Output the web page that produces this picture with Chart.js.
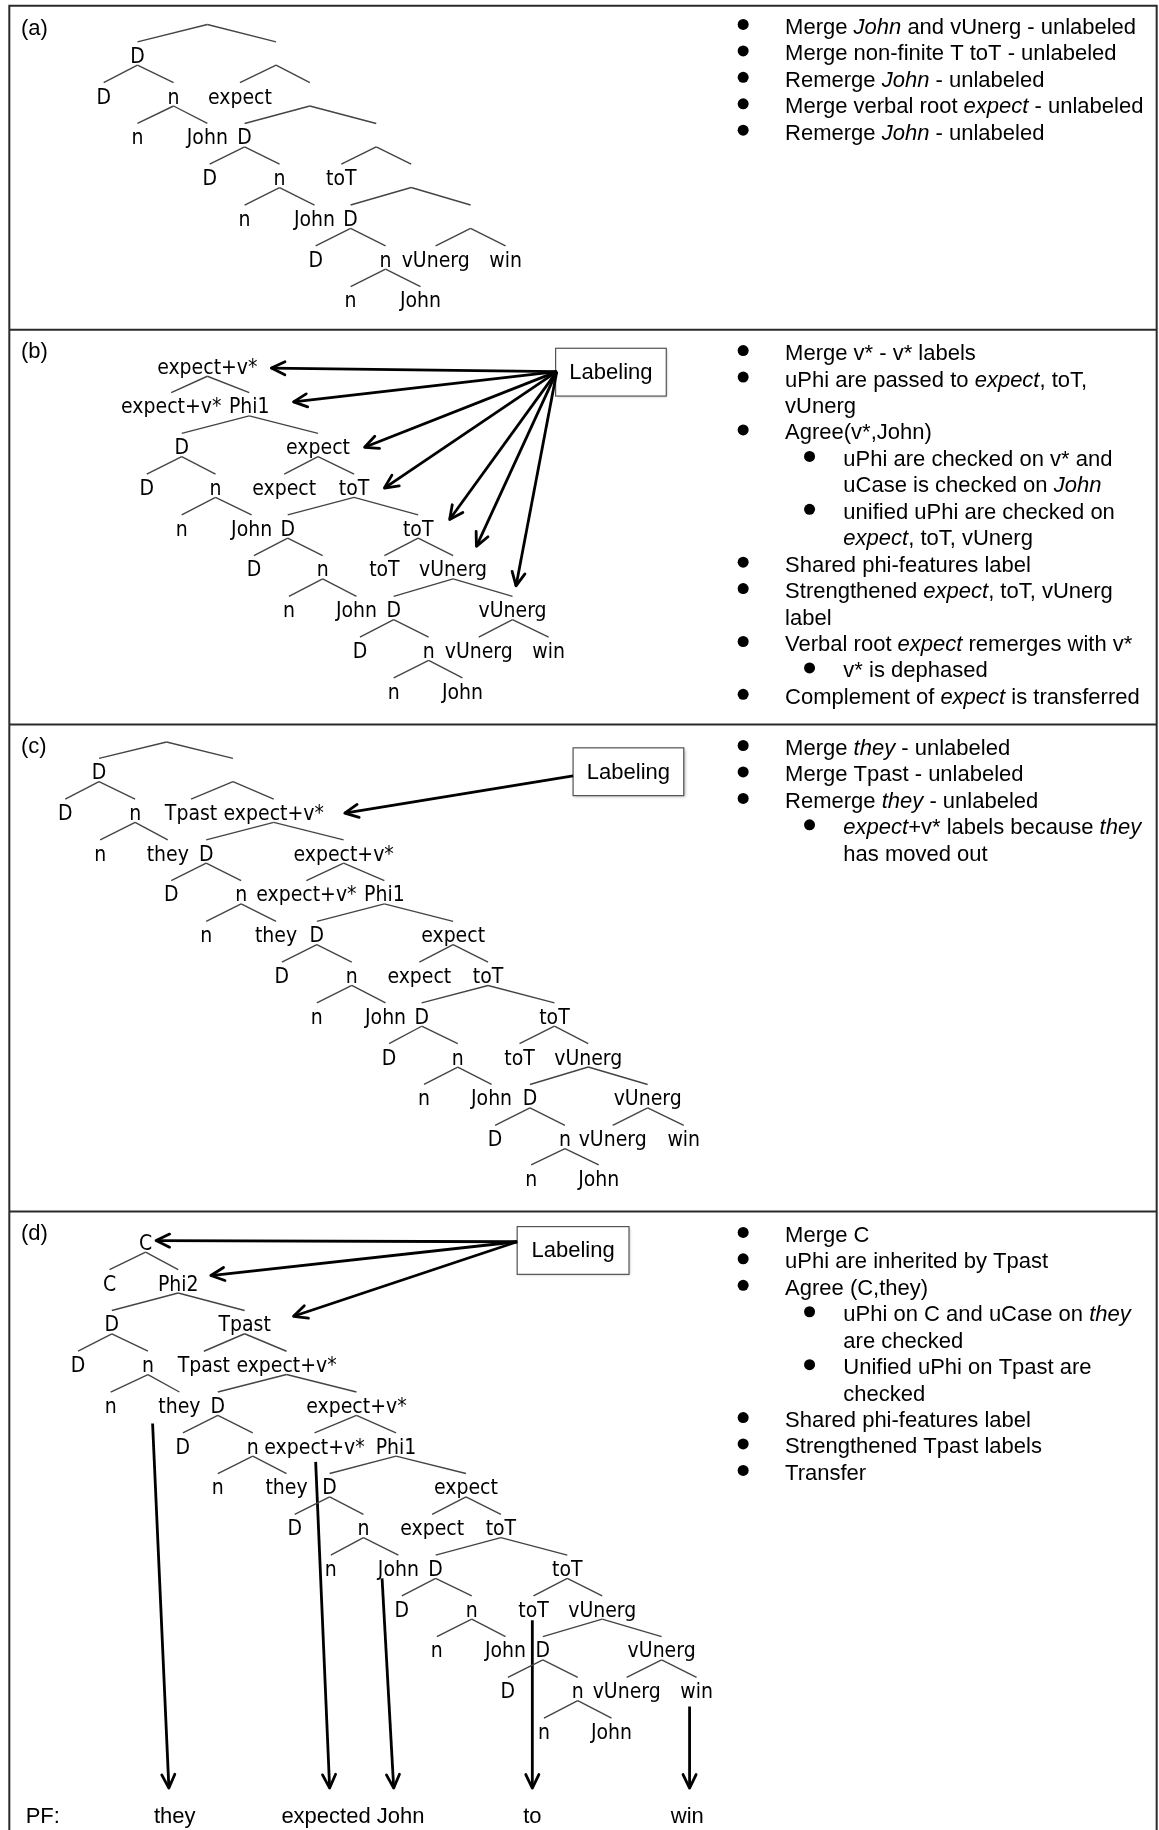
<!DOCTYPE html>
<html>
<head>
<meta charset="utf-8">
<script src="https://cdn.jsdelivr.net/npm/chart.js@4.4.1/dist/chart.umd.min.js"></script>
<style>
    html, body { margin: 0; padding: 0; background: #fff; }
</style>
</head>
<body>
<canvas id="figure" width="1159" height="1830"></canvas>
<script>
// chart units follow the reference sheet (995 x 1571), the scales stretch them onto the canvas
const X_MAX = 995;
const Y_MAX = 1571;

// trees: [label, x, y, parent]
const treeA = [
    ['', 178, 12, -1],
    ['D', 118, 47, 0],
    ['D', 89, 82, 1],
    ['n', 149, 82, 1],
    ['n', 118, 117, 3],
    ['John', 178, 117, 3],
    ['', 237, 47, 0],
    ['expect', 206, 82, 6],
    ['', 266, 82, 6],
    ['D', 210, 117, 8],
    ['D', 180, 152, 9],
    ['n', 240, 152, 9],
    ['n', 210, 187, 11],
    ['John', 270, 187, 11],
    ['', 323, 117, 8],
    ['toT', 293, 152, 14],
    ['', 353, 152, 14],
    ['D', 301, 187, 16],
    ['D', 271, 222, 17],
    ['n', 331, 222, 17],
    ['n', 301, 257, 19],
    ['John', 361, 257, 19],
    ['', 404, 187, 16],
    ['vUnerg', 374, 222, 22],
    ['win', 434, 222, 22]
];

const treeB = [
    ['expect+v*', 178, 314, -1],
    ['expect+v*', 147, 348, 0],
    ['Phi1', 214, 348, 0],
    ['D', 156, 383, 2],
    ['D', 126, 418, 3],
    ['n', 185, 418, 3],
    ['n', 156, 453, 5],
    ['John', 216, 453, 5],
    ['expect', 273, 383, 2],
    ['expect', 244, 418, 8],
    ['toT', 304, 418, 8],
    ['D', 247, 453, 10],
    ['D', 218, 488, 11],
    ['n', 277, 488, 11],
    ['n', 248, 523, 13],
    ['John', 306, 523, 13],
    ['toT', 359, 453, 10],
    ['toT', 330, 488, 16],
    ['vUnerg', 389, 488, 16],
    ['D', 338, 523, 18],
    ['D', 309, 558, 19],
    ['n', 368, 558, 19],
    ['n', 338, 593, 21],
    ['John', 397, 593, 21],
    ['vUnerg', 440, 523, 18],
    ['vUnerg', 411, 558, 24],
    ['win', 471, 558, 24]
];

const treeC = [
    ['', 143, 628, -1],
    ['D', 85, 662, 0],
    ['D', 56, 697, 1],
    ['n', 116, 697, 1],
    ['n', 86, 732, 3],
    ['they', 144, 732, 3],
    ['', 200, 662, 0],
    ['Tpast', 164, 697, 6],
    ['expect+v*', 235, 697, 6],
    ['D', 177, 732, 8],
    ['D', 147, 767, 9],
    ['n', 207, 767, 9],
    ['n', 177, 802, 11],
    ['they', 237, 802, 11],
    ['expect+v*', 295, 732, 8],
    ['expect+v*', 263, 767, 14],
    ['Phi1', 330, 767, 14],
    ['D', 272, 802, 16],
    ['D', 242, 837, 17],
    ['n', 302, 837, 17],
    ['n', 272, 872, 19],
    ['John', 331, 872, 19],
    ['expect', 389, 802, 16],
    ['expect', 360, 837, 22],
    ['toT', 419, 837, 22],
    ['D', 362, 872, 24],
    ['D', 334, 907, 25],
    ['n', 393, 907, 25],
    ['n', 364, 942, 27],
    ['John', 422, 942, 27],
    ['toT', 476, 872, 24],
    ['toT', 446, 907, 30],
    ['vUnerg', 505, 907, 30],
    ['D', 455, 942, 32],
    ['D', 425, 977, 33],
    ['n', 485, 977, 33],
    ['n', 456, 1011, 35],
    ['John', 514, 1011, 35],
    ['vUnerg', 556, 942, 32],
    ['vUnerg', 526, 977, 38],
    ['win', 587, 977, 38]
];

const treeD = [
    ['C', 125, 1066, -1],
    ['C', 94, 1101, 0],
    ['Phi2', 153, 1101, 0],
    ['D', 96, 1136, 2],
    ['D', 67, 1171, 3],
    ['n', 127, 1171, 3],
    ['n', 95, 1206, 5],
    ['they', 154, 1206, 5],
    ['Tpast', 210, 1136, 2],
    ['Tpast', 175, 1171, 8],
    ['expect+v*', 246, 1171, 8],
    ['D', 187, 1206, 10],
    ['D', 157, 1241, 11],
    ['n', 217, 1241, 11],
    ['n', 187, 1276, 13],
    ['they', 246, 1276, 13],
    ['expect+v*', 306, 1206, 10],
    ['expect+v*', 270, 1241, 16],
    ['Phi1', 340, 1241, 16],
    ['D', 283, 1276, 18],
    ['D', 253, 1311, 19],
    ['n', 312, 1311, 19],
    ['n', 284, 1346, 21],
    ['John', 342, 1346, 21],
    ['expect', 400, 1276, 18],
    ['expect', 371, 1311, 24],
    ['toT', 430, 1311, 24],
    ['D', 374, 1346, 26],
    ['D', 345, 1381, 27],
    ['n', 405, 1381, 27],
    ['n', 375, 1416, 29],
    ['John', 434, 1416, 29],
    ['toT', 487, 1346, 26],
    ['toT', 458, 1381, 32],
    ['vUnerg', 517, 1381, 32],
    ['D', 466, 1416, 34],
    ['D', 436, 1451, 35],
    ['n', 496, 1451, 35],
    ['n', 467, 1486, 37],
    ['John', 525, 1486, 37],
    ['vUnerg', 568, 1416, 34],
    ['vUnerg', 538, 1451, 40],
    ['win', 598, 1451, 40]
];

// labeling arrows and PF arrows: [x0, y0, x1, y1]
const arrowsB = [
    [478, 319, 233, 316],
    [478, 319, 252, 345],
    [478, 319, 313, 384],
    [478, 319, 330, 419],
    [478, 319, 386, 446],
    [478, 319, 409, 469],
    [478, 319, 443, 503]
];
const arrowsC = [[492, 666, 296, 698]];
const arrowsD = [
    [444, 1066, 134, 1065],
    [444, 1066, 181, 1095],
    [444, 1066, 252, 1130]
];
const arrowsPF = [
    [131, 1222, 145, 1535],
    [271, 1255, 283, 1535],
    [328, 1355, 338, 1535],
    [457, 1391, 457, 1535],
    [592, 1465, 592, 1535]
];

// bullets: [level, dot, text]  (_..._ = italic)
const bulletsA = [
    [1, true, 'Merge _John_ and vUnerg - unlabeled'],
    [1, true, 'Merge non-finite T toT - unlabeled'],
    [1, true, 'Remerge _John_ - unlabeled'],
    [1, true, 'Merge verbal root _expect_ - unlabeled'],
    [1, true, 'Remerge _John_ - unlabeled']
];
const bulletsB = [
    [1, true, 'Merge v* - v* labels'],
    [1, true, 'uPhi are passed to _expect_, toT,'],
    [1, false, 'vUnerg'],
    [1, true, 'Agree(v*,John)'],
    [2, true, 'uPhi are checked on v* and'],
    [2, false, 'uCase is checked on _John_'],
    [2, true, 'unified uPhi are checked on'],
    [2, false, '_expect_, toT, vUnerg'],
    [1, true, 'Shared phi-features label'],
    [1, true, 'Strengthened _expect_, toT, vUnerg'],
    [1, false, 'label'],
    [1, true, 'Verbal root _expect_ remerges with v*'],
    [2, true, 'v* is dephased'],
    [1, true, 'Complement of _expect_ is transferred']
];
const bulletsC = [
    [1, true, 'Merge _they_ - unlabeled'],
    [1, true, 'Merge Tpast - unlabeled'],
    [1, true, 'Remerge _they_ - unlabeled'],
    [2, true, '_expect_+v* labels because _they_'],
    [2, false, 'has moved out']
];
const bulletsD = [
    [1, true, 'Merge C'],
    [1, true, 'uPhi are inherited by Tpast'],
    [1, true, 'Agree (C,they)'],
    [2, true, 'uPhi on C and uCase on _they_'],
    [2, false, 'are checked'],
    [2, true, 'Unified uPhi on Tpast are'],
    [2, false, 'checked'],
    [1, true, 'Shared phi-features label'],
    [1, true, 'Strengthened Tpast labels'],
    [1, true, 'Transfer']
];

const pfWords = ['they', 'expected John', 'to', 'win'];
const pfCenters = [150, 303, 457, 590];

// layout
const panels = [
    { tag: '(a)', top: 5, tree: treeA, bullets: bulletsA, bulletY: 21, box: null },
    { tag: '(b)', top: 283, tree: treeB, bullets: bulletsB, bulletY: 301, box: [477, 299, 572, 340] },
    { tag: '(c)', top: 622, tree: treeC, bullets: bulletsC, bulletY: 640, box: [492, 642, 587, 683] },
    { tag: '(d)', top: 1040, tree: treeD, bullets: bulletsD, bulletY: 1058, box: [444, 1053, 540, 1094] }
];
const FRAME_L = 8, FRAME_R = 993;
const LINE_STEP = 22.7;
const TREE_FONT = '"DejaVu Sans Condensed", "DejaVu Sans", sans-serif';
const TEXT_FONT = '"Liberation Sans", Arial, sans-serif';

function treeEdges(tree) {
    const segs = [];
    tree.forEach(([label, x, y, p]) => {
        if (p < 0) return;
        const par = tree[p];
        segs.push([{ x: par[1], y: par[2] + 9 }, { x: x, y: y - 11 }]);
    });
    return segs;
}

const datasets = [];
panels.forEach(panel => {
    treeEdges(panel.tree).forEach(seg => {
        datasets.push({ data: seg, showLine: true, borderColor: '#444', borderWidth: 1.4, pointRadius: 0 });
    });
});
const allArrows = arrowsB.concat(arrowsC, arrowsD, arrowsPF);
allArrows.forEach(a => {
    datasets.push({
        data: [{ x: a[0], y: a[1] }, { x: a[2], y: a[3] }],
        showLine: true, borderColor: '#000', borderWidth: 2.8, pointRadius: 0
    });
});

function drawRich(ctx, text, x, y, size) {
    let cx = x;
    text.split('_').forEach((part, i) => {
        ctx.font = (i % 2 ? 'italic ' : '') + size + 'px ' + TEXT_FONT;
        ctx.fillText(part, cx, y);
        cx += ctx.measureText(part).width;
    });
}

const figurePlugin = {
    id: 'figure',
    beforeDatasetsDraw(chart) {
        const ctx = chart.ctx;
        const X = v => chart.scales.x.getPixelForValue(v);
        const Y = v => chart.scales.y.getPixelForValue(v);
        ctx.save();
        ctx.strokeStyle = '#2a2a2a';
        ctx.lineWidth = 2;
        ctx.beginPath();
        ctx.moveTo(X(FRAME_L), Y(Y_MAX));
        ctx.lineTo(X(FRAME_L), Y(5));
        ctx.lineTo(X(FRAME_R), Y(5));
        ctx.lineTo(X(FRAME_R), Y(Y_MAX));
        panels.forEach(p => {
            ctx.moveTo(X(FRAME_L), Y(p.top));
            ctx.lineTo(X(FRAME_R), Y(p.top));
        });
        ctx.stroke();

        // labeling boxes
        panels.forEach(p => {
            if (!p.box) return;
            const [x0, y0, x1, y1] = p.box;
            ctx.save();
            ctx.shadowColor = 'rgba(0,0,0,0.35)';
            ctx.shadowBlur = 3;
            ctx.shadowOffsetX = 1;
            ctx.shadowOffsetY = 1;
            ctx.fillStyle = '#fff';
            ctx.fillRect(X(x0), Y(y0), X(x1) - X(x0), Y(y1) - Y(y0));
            ctx.restore();
            ctx.strokeStyle = '#555';
            ctx.lineWidth = 1.2;
            ctx.strokeRect(X(x0), Y(y0), X(x1) - X(x0), Y(y1) - Y(y0));
            ctx.fillStyle = '#000';
            ctx.font = '22px ' + TEXT_FONT;
            ctx.textAlign = 'center';
            ctx.textBaseline = 'alphabetic';
            ctx.fillText('Labeling', X((x0 + x1) / 2), Y((y0 + y1) / 2) + 7);
        });
        ctx.restore();
    },
    afterDatasetsDraw(chart) {
        const ctx = chart.ctx;
        const X = v => chart.scales.x.getPixelForValue(v);
        const Y = v => chart.scales.y.getPixelForValue(v);
        ctx.save();
        ctx.fillStyle = '#000';
        ctx.textBaseline = 'alphabetic';

        panels.forEach(p => {
            // panel tag
            ctx.textAlign = 'left';
            ctx.font = '22px ' + TEXT_FONT;
            ctx.fillText(p.tag, X(18), Y(p.top + 17) + 9);

            // tree labels
            ctx.textAlign = 'center';
            ctx.font = '21px ' + TREE_FONT;
            p.tree.forEach(([label, x, y]) => {
                if (label) ctx.fillText(label, X(x), Y(y) + 8);
            });

            // bullet list
            ctx.textAlign = 'left';
            p.bullets.forEach(([level, dot, text], i) => {
                const y = p.bulletY + i * LINE_STEP;
                const dotX = level === 1 ? 638 : 695;
                const textX = level === 1 ? 674 : 724;
                if (dot) {
                    ctx.beginPath();
                    ctx.arc(X(dotX), Y(y), 5.5, 0, Math.PI * 2);
                    ctx.fill();
                }
                drawRich(ctx, text, X(textX), Y(y) + 9.5, 22);
            });
        });

        // arrow heads
        ctx.strokeStyle = '#000';
        ctx.lineWidth = 2.8;
        ctx.lineCap = 'round';
        ctx.lineJoin = 'round';
        allArrows.forEach(a => {
            const x0 = X(a[0]), y0 = Y(a[1]), x1 = X(a[2]), y1 = Y(a[3]);
            const ang = Math.atan2(y1 - y0, x1 - x0);
            const len = 15, spread = 0.45;
            ctx.beginPath();
            ctx.moveTo(x1 - len * Math.cos(ang - spread), y1 - len * Math.sin(ang - spread));
            ctx.lineTo(x1, y1);
            ctx.lineTo(x1 - len * Math.cos(ang + spread), y1 - len * Math.sin(ang + spread));
            ctx.stroke();
        });

        // PF line
        ctx.font = '22px ' + TEXT_FONT;
        ctx.textAlign = 'left';
        ctx.fillText('PF:', X(22), Y(1557) + 9);
        ctx.textAlign = 'center';
        pfWords.forEach((w, i) => ctx.fillText(w, X(pfCenters[i]), Y(1557) + 9));
        ctx.restore();
    }
};

new Chart(document.getElementById('figure'), {
    type: 'scatter',
    data: { datasets: datasets },
    options: {
        responsive: false,
        animation: false,
        events: [],
        layout: { padding: 0 },
        plugins: {
            legend: { display: false },
            tooltip: { enabled: false }
        },
        scales: {
            x: { type: 'linear', min: 0, max: X_MAX, display: false },
            y: { type: 'linear', min: 0, max: Y_MAX, reverse: true, display: false }
        }
    },
    plugins: [figurePlugin]
});
</script>
</body>
</html>
